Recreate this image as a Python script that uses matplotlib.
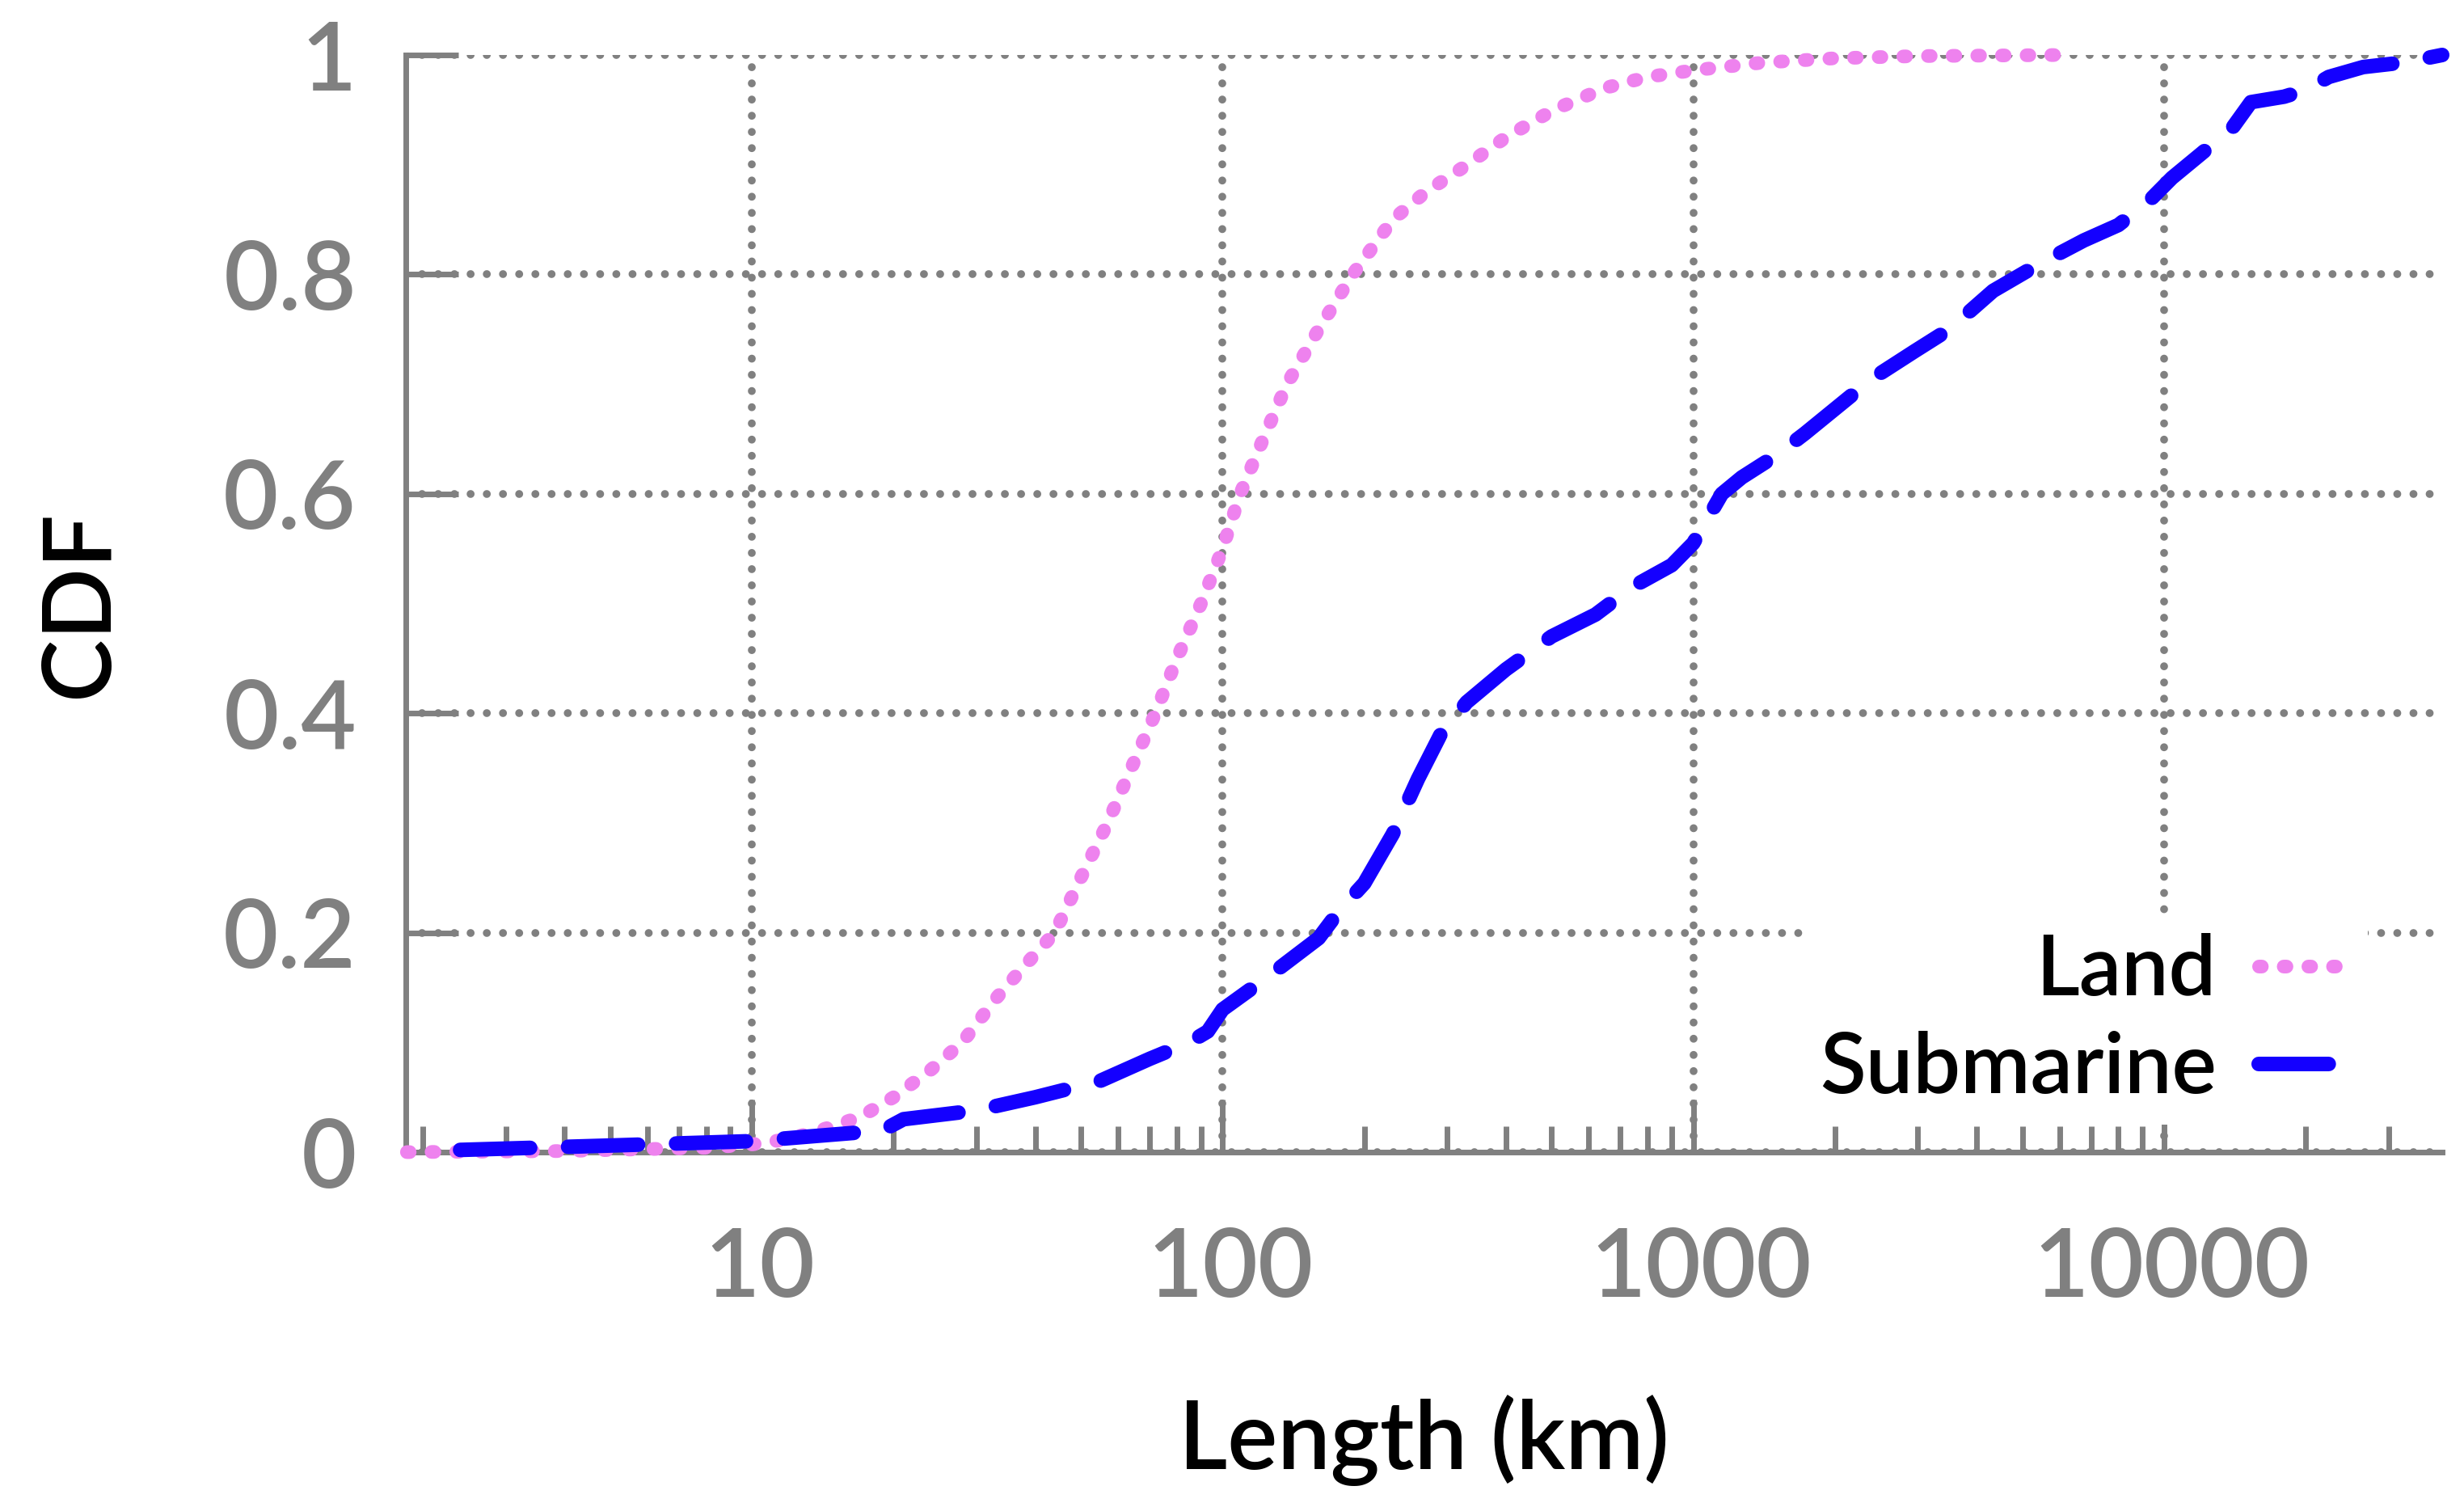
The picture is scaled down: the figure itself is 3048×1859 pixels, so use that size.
import matplotlib
matplotlib.use('Agg')
import matplotlib.pyplot as plt
import matplotlib.transforms as mtransforms
from matplotlib.ticker import FixedLocator, LogLocator, NullFormatter

# ---------------- data ----------------
land_km = [1.85, 4, 8, 10, 12, 14, 17, 20, 24, 28, 33, 38, 44, 50, 57, 64, 72, 80,
           90, 100, 109, 122, 137, 160, 189, 230, 270, 331, 400, 505, 650, 800,
           1000, 1400, 2000, 3000, 6100]
land_cdf = [0.0, 0.001, 0.004, 0.007, 0.012, 0.02, 0.032, 0.05, 0.075, 0.1, 0.14,
            0.17, 0.2, 0.25, 0.3, 0.35, 0.4, 0.45, 0.5, 0.55, 0.6, 0.65, 0.7, 0.75,
            0.8, 0.85, 0.875, 0.9, 0.925, 0.95, 0.97, 0.98, 0.986, 0.993, 0.997,
            0.999, 1.0]

sub_km = [2.4, 5, 10, 17, 19, 21, 30, 40, 55, 70, 85, 93, 100, 125, 160, 177, 200,
          230, 260, 290, 330, 400, 500, 620, 741, 900, 1000, 1150, 1268, 1500, 1726,
          2173, 2500, 2953, 3500, 4335, 5457, 6760, 8000, 9300, 10400, 12000, 14000,
          15300, 18000, 20000, 22400, 26500, 32000, 36000, 39000]
sub_cdf = [0.002, 0.006, 0.01, 0.018, 0.02, 0.03, 0.038, 0.05, 0.065, 0.085, 0.1,
           0.11, 0.13, 0.16, 0.195, 0.22, 0.245, 0.29, 0.34, 0.38, 0.41, 0.44, 0.47,
           0.49, 0.515, 0.535, 0.555, 0.6, 0.615, 0.635, 0.655, 0.69, 0.71, 0.73,
           0.75, 0.785, 0.81, 0.831, 0.845, 0.867, 0.888, 0.91, 0.934, 0.957, 0.962,
           0.968, 0.98, 0.989, 0.993, 0.997, 1.0]

xtick_values = [10, 100, 1000, 10000]
xtick_labels = ['10', '100', '1000', '10000']
ytick_values = [0, 0.2, 0.4, 0.6, 0.8, 1.0]
ytick_labels = ['0', '0.2', '0.4', '0.6', '0.8', '1']
series_names = ['Land', 'Submarine']

# ---------------- style ----------------
plt.rcParams['font.family'] = ['Lato', 'DejaVu Sans']
plt.rcParams['font.weight'] = 'semibold'
W, H, DPI = 3048, 1859, 100
GRAY = '#808080'
PINK = '#ee82ee'
BLUE = '#1400ff'

fig = plt.figure(figsize=(W / DPI, H / DPI), dpi=DPI)
L, R, T, B = 502, 3021, 68, 1425
ax = fig.add_axes([L / W, 1 - B / H, (R - L) / W, (B - T) / H])

ax.plot(land_km, land_cdf, color=PINK, lw=12.2, linestyle=(0, (0.2, 1.6)),
        dash_capstyle='round', solid_capstyle='round', zorder=3, clip_on=False,
        label=series_names[0])
ax.plot(sub_km, sub_cdf, color=BLUE, lw=13, linestyle=(0, (4.8, 2.6)),
        dash_capstyle='round', solid_capstyle='round', dash_joinstyle='round',
        zorder=3, clip_on=False, label=series_names[1])

ax.set_xscale('log')
ax.set_xlim(1.84, 39000)
ax.set_ylim(0, 1)

ax.xaxis.set_major_locator(FixedLocator(xtick_values))
ax.set_xticklabels(xtick_labels)
ax.xaxis.set_minor_locator(LogLocator(base=10, subs=[2, 3, 4, 5, 6, 7, 8, 9], numticks=50))
ax.xaxis.set_minor_formatter(NullFormatter())
ax.set_yticks(ytick_values)
ax.set_yticklabels(ytick_labels)

for s in ['top', 'right']:
    ax.spines[s].set_visible(False)
for s in ['left', 'bottom']:
    ax.spines[s].set_color(GRAY)
    ax.spines[s].set_linewidth(5)
    ax.spines[s].set_capstyle('projecting')

ax.tick_params(axis='both', which='major', direction='in', length=47, width=5,
               color=GRAY, labelcolor=GRAY, labelsize=85)
ax.tick_params(axis='x', which='major', pad=66)
ax.tick_params(axis='y', which='major', pad=44)
ax.tick_params(axis='x', which='minor', direction='in', length=23, width=5, color=GRAY)

offset = mtransforms.ScaledTranslation(0.10, 0, fig.dpi_scale_trans)
for lab in ax.get_xticklabels():
    lab.set_transform(lab.get_transform() + offset)
    lab.set_fontweight('semibold')
for lab in ax.get_yticklabels():
    lab.set_fontweight('semibold')

ax.set_axisbelow(True)
ax.grid(True, which='major', color=GRAY, lw=7, linestyle=(0, (0.01, 2.05)),
        dash_capstyle='round')

ax.set_xlabel('Length (km)', fontsize=84, color='black', fontweight='semibold')
ax.xaxis.label.set_va('baseline')
ax.xaxis.set_label_coords(0.5, -(1817 - B) / (B - T))
ax.set_ylabel('CDF', fontsize=84, color='black', fontweight='semibold')
ax.yaxis.label.set_va('baseline')
ax.yaxis.set_label_coords(-(L - 133) / (R - L), 0.5)

leg = ax.legend(loc='lower right', bbox_to_anchor=((2929 - L) / (R - L), (B - 1391) / (B - T)),
                borderaxespad=0, borderpad=0.2,
                prop={'size': 75, 'weight': 'semibold'}, markerfirst=False,
                handlelength=1.1, handletextpad=0.5, labelspacing=0.25,
                frameon=True, fancybox=False, framealpha=1.0)
leg.get_frame().set_facecolor('white')
leg.get_frame().set_edgecolor('none')
leg.get_frame().set_linewidth(0)

fig.savefig('out.png', dpi=DPI)
